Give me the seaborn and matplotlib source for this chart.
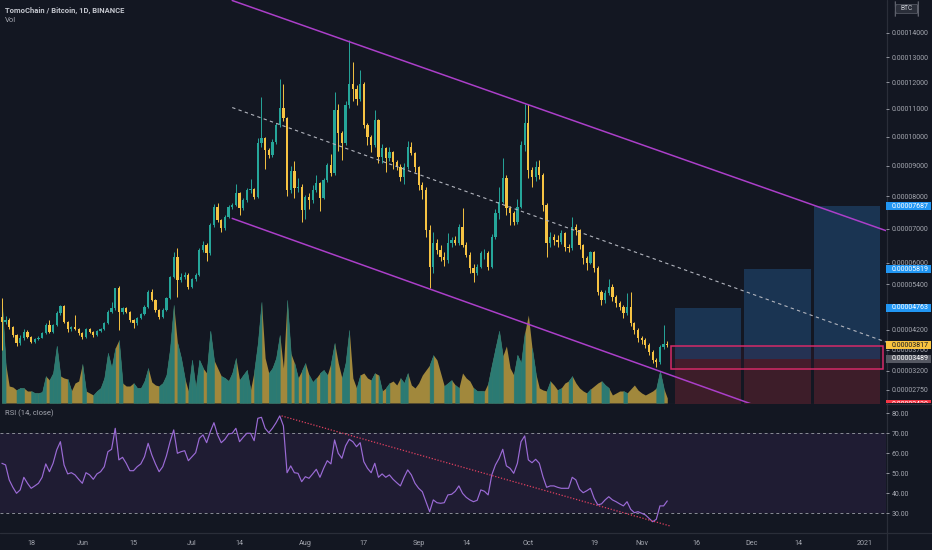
import numpy as np
import pandas as pd
import matplotlib
matplotlib.use("Agg")
import matplotlib.pyplot as plt
import matplotlib.dates as mdates
from matplotlib.lines import Line2D
from matplotlib.patches import Rectangle, FancyBboxPatch
from matplotlib.ticker import FixedLocator, FixedFormatter, FuncFormatter, NullLocator
import seaborn as sns

# --- Datos: TOMO/BTC diario, precios en satoshi (1e-8 BTC) ---
start_date = "2020-05-10"
first_open = 4530

close = [
    4405, 4448, 4278, 4068, 3861, 3985, 4152, 4026, 3900, 3967,
    4000, 4112, 4322, 4152, 4322, 4624, 4815, 4405, 4213, 4263,
    4213, 4112, 4026, 4213, 4152, 4068, 4178, 4213, 4365, 4665,
    4755, 5289, 4665, 4755, 4665, 4448, 4365, 4493, 4605, 4796,
    5181, 4972, 4710, 4534, 4710, 5018, 5590, 6154, 5514, 5590,
    5654, 5332, 5534, 5654, 6366, 6511, 6270, 7106, 7670, 7256,
    7007, 7359, 7670, 7722, 8093, 7620, 7878, 8199, 8221, 7984,
    9760, 9935, 9530, 9357, 9815, 10407, 11016, 10648, 8199, 8830,
    8253, 8305, 7567, 7984, 7878, 8199, 8414, 7933, 8520, 9018,
    8743, 10953, 10111, 9760, 11137, 11957, 11766, 11387, 11957, 10407,
    9990, 9702, 10585, 9299, 9589, 9243, 9471, 9128, 8962, 8630,
    8962, 9644, 9415, 8962, 8360, 8199, 6956, 5888, 6560, 6366,
    6172, 6076, 6560, 6656, 6578, 7055, 6511, 6221, 5843, 5719,
    5888, 6270, 6289, 5888, 6755, 7463, 7825, 8577, 7620, 7463,
    7205, 7670, 9702, 10467, 8852, 8630, 8962, 8687, 7722, 6560,
    6755, 6656, 6607, 6856, 6462, 6415, 7055, 6956, 6511, 6125,
    5983, 6318, 5843, 5196, 4972, 5153, 5332, 5061, 4885, 4796,
    4624, 4796, 4365, 4195, 3985, 3942, 3820, 3655, 3452, 3412,
    3780, 3840, 3817,
]
high = [
    5018, 4560, 4490, 4300, 4100, 4080, 4210, 4190, 4050, 4000,
    4040, 4150, 4380, 4450, 4350, 4680, 4830, 4840, 4430, 4290,
    4579, 4240, 4150, 4240, 4250, 4180, 4200, 4240, 4400, 4720,
    4927, 5300, 5360, 4800, 4790, 4690, 4470, 4530, 4640, 4830,
    5250, 5260, 5000, 4740, 4760, 5060, 5620, 6300, 6415, 5700,
    5750, 5700, 5580, 5700, 6420, 6620, 6560, 7160, 7750, 7800,
    7300, 7400, 7720, 7800, 8380, 8130, 7950, 8250, 8550, 8260,
    9950, 11447, 10000, 9600, 9900, 10500, 12150, 11957, 10700, 9000,
    9150, 8600, 8400, 8050, 8100, 8350, 8700, 8450, 8600, 9100,
    9400, 11640, 11200, 10200, 11300, 13690, 12805, 11900, 12480, 12000,
    10500, 10050, 10953, 10620, 9750, 9650, 9650, 9500, 9200, 9050,
    9100, 9850, 9800, 9450, 9000, 8450, 8300, 7100, 6900, 6700,
    6500, 6300, 6856, 6750, 6780, 7150, 7620, 6600, 6300, 5950,
    5950, 6350, 6400, 6350, 6850, 7600, 8300, 9243, 8700, 7700,
    7550, 7900, 9850, 11200, 11200, 8950, 9150, 9200, 8750, 7800,
    6900, 6850, 6800, 6950, 6900, 6550, 7359, 7150, 7000, 6550,
    6200, 6350, 6350, 5900, 5250, 5250, 5550, 5400, 5100, 4950,
    4850, 5153, 5196, 4400, 4250, 4050, 3990, 3870, 3700, 3500,
    3830, 4322, 3930,
]
low = [
    3700, 4340, 4230, 4010, 3800, 3830, 3950, 3990, 3860, 3880,
    3940, 3980, 4090, 4120, 4130, 4300, 4580, 4360, 4150, 4180,
    4190, 4080, 3970, 4000, 4120, 4030, 4050, 4150, 4190, 4340,
    4640, 4720, 4195, 4600, 4620, 4390, 4250, 4330, 4470, 4580,
    4770, 4940, 4660, 4480, 4500, 4690, 4990, 5560, 5061, 5450,
    5540, 5280, 5290, 5500, 5620, 6300, 6050, 6230, 7050, 7200,
    6900, 6960, 7320, 7600, 7690, 7400, 7580, 7820, 8120, 7900,
    7960, 9650, 8900, 9250, 9300, 9750, 10350, 10550, 8000, 8100,
    7950, 8150, 7200, 7300, 7600, 7800, 8150, 7550, 7900, 8450,
    8650, 8700, 9500, 9200, 9700, 11050, 11300, 11150, 11300, 10300,
    9700, 9450, 9650, 9100, 9100, 8800, 9150, 8900, 8850, 8500,
    8400, 8900, 9350, 8800, 8200, 7900, 6750, 5289, 5700, 6250,
    6050, 5900, 6000, 6450, 6500, 6500, 6450, 6150, 5700, 5468,
    5650, 5850, 6100, 5800, 5860, 6700, 7300, 7780, 7400, 7100,
    7106, 7150, 7620, 9500, 8600, 8300, 8500, 8550, 7550, 6172,
    6450, 6500, 6450, 6550, 6350, 6300, 6380, 6800, 6400, 5950,
    5800, 5950, 5750, 5100, 4850, 4900, 5100, 4950, 4800, 4700,
    4500, 4580, 4300, 4100, 3900, 3850, 3750, 3580, 3380, 3293,
    3350, 3720, 3770,
]
# volumen en miles de TOMO
volume = [
    4080, 1600, 680, 640, 520, 600, 600, 480, 480, 400,
    400, 440, 1080, 920, 1200, 2280, 1080, 1000, 960, 480,
    800, 880, 1560, 480, 400, 320, 480, 600, 1000, 2000,
    1400, 2200, 2520, 800, 680, 680, 800, 600, 600, 880,
    1400, 840, 720, 680, 800, 1120, 2200, 3920, 2400, 1800,
    1000, 480, 1720, 600, 1720, 1400, 1200, 2880, 1720, 1400,
    1080, 1000, 880, 1200, 1800, 920, 1120, 1320, 520, 1280,
    2400, 4040, 1800, 1200, 1400, 1800, 2720, 1400, 4120, 2000,
    1600, 1000, 1280, 1600, 1120, 840, 1000, 1200, 1320, 1120,
    1600, 2400, 1600, 1000, 1600, 2920, 1000, 600, 1120, 1200,
    1000, 920, 1200, 1120, 480, 600, 800, 880, 720, 1000,
    800, 1200, 720, 600, 800, 1120, 1320, 1520, 1920, 1720,
    1200, 680, 800, 920, 720, 600, 1200, 1000, 880, 600,
    480, 480, 480, 800, 1520, 2200, 2880, 1880, 2280, 1400,
    1120, 1920, 1600, 2800, 3520, 2200, 1200, 600, 520, 480,
    880, 720, 520, 600, 800, 880, 1080, 800, 600, 480,
    400, 560, 680, 800, 880, 720, 600, 320, 400, 480,
    480, 400, 560, 720, 520, 400, 320, 400, 480, 600,
    1280, 600, 200,
]
rsi = [
    55.0, 54.2, 46.7, 43.0, 40.0, 41.7, 48.0, 45.0, 42.5, 43.7,
    45.0, 48.0, 54.7, 50.8, 55.0, 61.7, 65.8, 54.2, 49.7, 50.3,
    49.2, 47.0, 45.0, 50.3, 49.2, 47.0, 49.7, 50.8, 53.3, 60.8,
    62.0, 72.5, 56.7, 58.0, 55.0, 51.3, 51.3, 53.3, 54.7, 58.3,
    65.0, 59.2, 54.7, 50.8, 53.3, 58.7, 65.8, 71.7, 60.0, 60.8,
    61.3, 56.3, 58.3, 60.3, 67.5, 69.2, 65.3, 70.8, 75.3, 69.2,
    65.3, 67.0, 69.7, 70.0, 72.5, 65.8, 68.0, 70.0, 70.0, 66.3,
    77.5, 78.0, 72.5, 70.3, 72.5, 75.3, 78.7, 73.7, 50.3, 53.7,
    50.3, 50.0, 45.8, 48.3, 47.5, 49.7, 52.0, 48.0, 52.5, 56.3,
    54.7, 66.7, 60.0, 57.5, 63.7, 67.0, 65.8, 63.3, 65.3, 55.8,
    52.5, 50.3, 55.0, 48.0, 49.7, 48.0, 49.2, 47.0, 45.3, 43.7,
    48.0, 51.7, 49.2, 45.0, 42.5, 40.8, 35.8, 30.8, 36.7, 35.3,
    35.0, 35.3, 39.2, 39.5, 41.0, 43.7, 40.0, 38.0, 36.7, 35.8,
    36.5, 41.7, 41.0, 39.2, 49.2, 54.2, 57.5, 62.0, 53.7, 52.5,
    50.0, 55.0, 65.8, 68.7, 56.7, 55.3, 57.0, 55.0, 48.3, 43.0,
    43.7, 43.7, 43.0, 42.5, 42.5, 42.5, 48.0, 46.7, 42.0, 40.3,
    41.3, 42.5, 37.5, 34.2, 34.7, 36.7, 38.3, 36.7, 35.8, 34.7,
    33.7, 35.8, 32.0, 30.3, 30.8, 30.0, 29.2, 27.5, 25.8, 27.0,
    33.7, 33.7, 36.2,
]

# --- Dibujos (dia desde el inicio, precio) ---
upper_line = [(63, 15400), (241.8, 6938)]
mid_line = [(63, 11050), (241.8, 3893)]
lower_line = [(63, 7308), (215, 2145)]
rsi_line = [(76.5, 78.7), (182.7, 23.7)]

entry, stop = 3489, 2430
targets = [4763, 5819, 7687]
box_days = [(184.1, 202.2), (203.1, 221.2), (222.1, 240.2)]
zone_days, zone_prices = (182.9, 241.1), (3246, 3795)

price_ticks = [14000, 13000, 12000, 11000, 10000, 9000, 8000, 7000,
               6000, 5400, 4200, 3700, 3200, 2750]
rsi_ticks = [80, 70, 60, 50, 40, 30]
date_ticks = ["2020-05-18", "2020-06-01", "2020-06-15", "2020-07-01", "2020-07-14",
              "2020-08-01", "2020-08-17", "2020-09-01", "2020-09-14", "2020-10-01",
              "2020-10-19", "2020-11-01", "2020-11-16", "2020-12-01", "2020-12-14",
              "2021-01-01"]
date_labels = ["18", "Jun", "15", "Jul", "14", "Aug", "17", "Sep", "14", "Oct",
               "19", "Nov", "16", "Dec", "14", "2021"]

# --- Colores ---
BG = "#131722"
UP, DOWN = "#26a69a", "#f6c343"
VUP, VDOWN = "#2b7a73", "#a1883c"
CHANNEL = "#ab3fc9"
TXT = "#a3a6af"

sns.set_theme(style="dark", rc={"axes.facecolor": BG, "figure.facecolor": BG,
                                "savefig.facecolor": BG})
plt.rcParams["font.family"] = ["Roboto", "DejaVu Sans"]

W, H = 932, 550


def rect(x0, y0, x1, y1):
    return [x0 / W, 1 - y1 / H, (x1 - x0) / W, (y1 - y0) / H]


SHIFT = 10640


def fwd(p):
    return np.log(np.maximum(np.asarray(p, dtype=float) + SHIFT, 1e-9))


def inv(v):
    return np.exp(v) - SHIFT


fig = plt.figure(figsize=(W / 100, H / 100), dpi=100)
axv = fig.add_axes(rect(0, 0, 886, 403))
ax = fig.add_axes(rect(0, 0, 886, 403), sharex=axv)
ax2 = fig.add_axes(rect(0, 404, 886, 532), sharex=axv)
axv.set_zorder(1)
ax.set_zorder(2)
ax2.set_zorder(2)
ax.patch.set_visible(False)

dates = pd.date_range(start_date, periods=len(close), freq="D")
x = mdates.date2num(dates)
x0 = x[0]

c = np.array(close, dtype=float)
o = np.concatenate([[first_open], c[:-1]])
up = c >= o
col = np.where(up, UP, DOWN)

# --- Velas ---
ax.set_yscale("function", functions=(fwd, inv))
ax.vlines(x, low, high, colors=col, linewidth=0.7, zorder=3)
body_lo = np.minimum(o, c)
body_h = np.maximum(np.abs(c - o), 15)
ax.bar(x, body_h, bottom=body_lo, width=0.62, color=col, linewidth=0, zorder=4)

# --- Volumen (area) ---
axv.fill_between(x, volume, color=VDOWN, linewidth=0)
for i in range(1, len(volume)):
    if up[i]:
        axv.fill_between(x[i - 1:i + 1], volume[i - 1:i + 1], color=VUP,
                         linewidth=0.4, edgecolor=VUP)
axv.set_ylim(0, 16120)
axv.set_axis_off()

# --- Canal ---
for line in (upper_line, lower_line):
    ax.plot([x0 + line[0][0], x0 + line[1][0]], [line[0][1], line[1][1]],
            color=CHANNEL, linewidth=1.1, zorder=5)
ax.plot([x0 + mid_line[0][0], x0 + mid_line[1][0]], [mid_line[0][1], mid_line[1][1]],
        color="#b2b5be", linewidth=0.8, dashes=(3, 3), zorder=5)

# --- Posiciones largas ---
for (a, b), tgt in zip(box_days, targets):
    ax.fill_between([x0 + a, x0 + b], entry, tgt, color="#1a3452", linewidth=0, zorder=1)
    ax.fill_between([x0 + a, x0 + b], stop, entry, color="#3d1d29", linewidth=0, zorder=1)
ax.add_patch(Rectangle((x0 + zone_days[0], zone_prices[0]), zone_days[1] - zone_days[0],
                       zone_prices[1] - zone_prices[0], facecolor=(0.85, 0.1, 0.4, 0.06),
                       edgecolor="#d52a68", linewidth=1.1, zorder=6))

ax.set_xlim(x0 - 0.52, x0 + 241.83)
ax.set_ylim(2455, 15423)
for s in ax.spines.values():
    s.set_visible(False)
ax.tick_params(axis="x", bottom=False, labelbottom=False)
ax.yaxis.tick_right()
ax.yaxis.set_major_locator(FixedLocator(price_ticks))
ax.yaxis.set_minor_locator(NullLocator())
ax.yaxis.set_major_formatter(FuncFormatter(lambda v, _: f"{v * 1e-8:.8f}"))
ax.tick_params(axis="y", colors=TXT, labelsize=5.0, length=2.5, width=0.6, pad=1.5,
               labelcolor=TXT)
ax.grid(False)

# --- Etiquetas de precio en la escala ---
axr = fig.add_axes(rect(886, 0, 932, 403))
axr.set_zorder(5)
axr.set_yscale("function", functions=(fwd, inv))
axr.set_ylim(ax.get_ylim())
axr.set_xlim(0, 1)
axr.set_axis_off()
tags = [(7687, "#2196f3", "white"), (5819, "#2196f3", "white"), (4763, "#2196f3", "white"),
        (3817, "#f7c33f", "#131722"), (3489, "#555862", "white"), (stop, "#f23645", "white")]
to_axes = axr.transData + axr.transAxes.inverted()
hh = 8 / 403
for p, bg, fg in tags:
    yc = to_axes.transform((0.5, p))[1]
    axr.add_patch(Rectangle((0.0, yc - hh / 2), 0.98, hh, transform=axr.transAxes,
                            facecolor=bg, edgecolor="none", clip_on=True))
    axr.text(0.52, yc, f"{p * 1e-8:.8f}", transform=axr.transAxes, ha="center",
             va="center", fontsize=5.0, color=fg, clip_on=True)
yb = 1 - 9 / 403
axr.add_patch(FancyBboxPatch((0.2, yb - 4.5 / 403), 0.5, 9 / 403, transform=axr.transAxes,
                             boxstyle="round,pad=0,rounding_size=0.03",
                             facecolor="#2a2e39", edgecolor="#5d606b", linewidth=0.5))
axr.text(0.45, yb, "BTC", transform=axr.transAxes, ha="center", va="center",
         fontsize=4.8, color="#c8cbd3")

# --- RSI ---
ax2.axhspan(30, 70, color="#1f1c33", linewidth=0, zorder=0)
for lvl in (70, 30):
    ax2.axhline(lvl, color="#8a8d96", linewidth=0.7, dashes=(3, 3), zorder=1)
sns.lineplot(x=x, y=rsi, ax=ax2, color="#9b6bd6", linewidth=0.85, zorder=3)
ax2.plot([x0 + rsi_line[0][0], x0 + rsi_line[1][0]], [rsi_line[0][1], rsi_line[1][1]],
         color="#e0405f", linewidth=0.9, dashes=(1, 1.4), zorder=4)
ax2.set_ylim(20.65, 84.65)
ax2.set_xlim(x0 - 0.52, x0 + 241.83)
ax2.set_xlabel("")
ax2.set_ylabel("")
for s in ax2.spines.values():
    s.set_visible(False)
ax2.yaxis.tick_right()
ax2.yaxis.set_major_locator(FixedLocator(rsi_ticks))
ax2.yaxis.set_major_formatter(FuncFormatter(lambda v, _: f"{v:.2f}"))
ax2.tick_params(axis="y", colors=TXT, labelsize=5.0, length=2.5, width=0.6, pad=1.5,
                labelcolor=TXT)
ax2.xaxis.set_major_locator(FixedLocator(mdates.date2num(pd.to_datetime(date_ticks))))
ax2.xaxis.set_major_formatter(FixedFormatter(date_labels))
ax2.tick_params(axis="x", colors=TXT, labelsize=5.2, length=0, pad=5.6, labelcolor=TXT)
ax2.grid(False)

# --- Separadores y textos ---
for y in (403.5, 532.5):
    fig.add_artist(Line2D([0, 1], [1 - y / H, 1 - y / H], color="#2a2e39", linewidth=0.9))
fig.add_artist(Line2D([886.5 / W, 886.5 / W], [0, 1], color="#2a2e39", linewidth=0.9))

fig.text(5 / W, 1 - 10 / H, "TomoChain / Bitcoin, 1D, BINANCE", fontsize=5.5,
         color="#c3c6ce", weight="bold", va="center")
fig.text(5 / W, 1 - 20 / H, "Vol", fontsize=5.5, color=TXT, va="center")
fig.text(5 / W, 1 - 413 / H, "RSI (14, close)", fontsize=5.5, color=TXT, va="center")

fig.savefig("out.png", dpi=100)
